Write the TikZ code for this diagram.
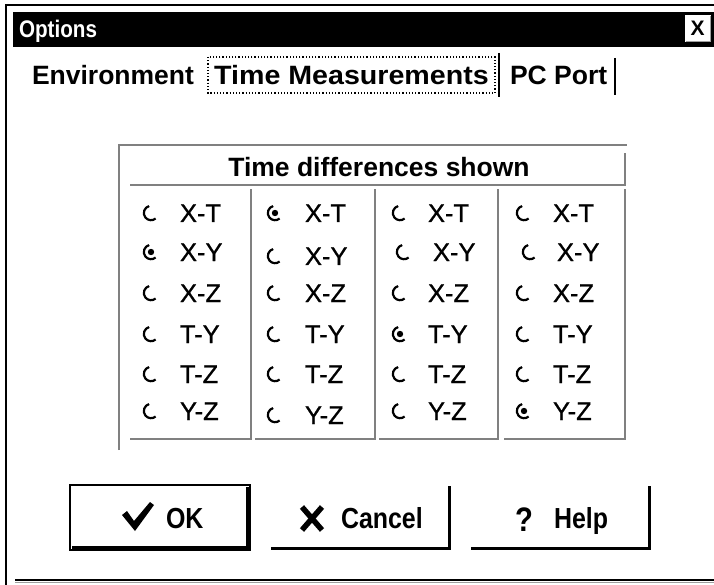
\documentclass[tikz,border=0pt]{standalone}
\usepackage{fontspec}
\setmainfont{Liberation Sans}
\newfontfamily\condfont[FakeStretch=0.86]{Liberation Sans}
\newfontfamily\radiofam[FakeBold=0.9]{Liberation Sans}
\definecolor{grpgray}{gray}{0.5}
\definecolor{shadegray}{gray}{0.62}
\newcommand\rbtn[3]{%
  \draw[rarc] (#1,#2) ++(-50:7.2pt) arc[start angle=-50,end angle=-255,radius=7.2pt];
  \ifnum#3=1 \fill[black] (#1,#2) circle[radius=3.2pt];\fi}
\begin{document}
\begin{tikzpicture}[x=1pt,y=-1pt,
  lbl/.style={anchor=base west,inner sep=0pt,outer sep=0pt},
  tabfont/.style={font=\fontsize{26.5}{30}\selectfont\bfseries},
  radiofont/.style={font=\radiofam\fontsize{25.5}{28}\selectfont},
  btnfont/.style={font=\condfont\fontsize{29}{32}\selectfont\bfseries},
  grp/.style={draw=grpgray,line width=1.6pt},
  rarc/.style={draw=black,line width=2.2pt},
  frameline/.style={draw=black,line width=2pt},
  shadowline/.style={draw=black,line width=3.2pt}]
\useasboundingbox (0,0) rectangle (714,585);
\fill[white] (0,0) rectangle (714,585);

% window frame and title bar
\draw[frameline] (6,585) -- (6,5) -- (714,5);
\fill[black] (13,12) rectangle (714,47);
\node[lbl,text=white,font=\condfont\fontsize{24}{26}\selectfont\bfseries] (title) at (19,38) {Options};
\fill[white] (685,15) rectangle (711,42);
\draw[shadegray,line width=1.5pt] (686,41.5) -- (710.5,41.5) -- (710.5,16);
\node[font=\fontsize{21}{24}\selectfont\bfseries,inner sep=0pt] (close) at (697.5,28.5) {X};

% tabs
\node[lbl,tabfont] (tabenv) at (32,85) {Environment};
\draw[black,line width=1.2pt,dotted] (208,57) rectangle (495,93);
\node[anchor=base,inner sep=0pt,tabfont] (tabtime) at (351.5,85) {\scalebox{1.08}[1]{Time Measurements}};
\draw[frameline] (499,53) -- (499,97);
\node[lbl,tabfont] (tabpc) at (510,85) {PC Port};
\draw[frameline] (615,58) -- (615,95);

% group box
\draw[grp] (119,450) -- (119,145) -- (627,145);
\draw[grp] (130,185) -- (625,185) -- (625,153);
\node[anchor=base,inner sep=0pt,tabfont] (grptitle) at (379,177) {Time differences shown};
\draw[grp] (130,439) -- (251,439) -- (251,189);
\draw[grp] (255,439) -- (375,439) -- (375,189);
\draw[grp] (379,439) -- (498,439) -- (498,189);
\draw[grp] (504,439) -- (625,439) -- (625,189);

% column 1
\rbtn{151}{213}{0} \node[lbl,radiofont] (a1) at (180,222) {X-T};
\rbtn{151}{252}{1} \node[lbl,radiofont] (a2) at (180,261) {X-Y};
\rbtn{151}{293}{0} \node[lbl,radiofont] (a3) at (180,302) {X-Z};
\rbtn{151}{334}{0} \node[lbl,radiofont] (a4) at (180,343) {T-Y};
\rbtn{151}{374}{0} \node[lbl,radiofont] (a5) at (180,383) {T-Z};
\rbtn{151}{411}{0} \node[lbl,radiofont] (a6) at (180,420) {Y-Z};
% column 2
\rbtn{275}{213}{1} \node[lbl,radiofont] (b1) at (305,222) {X-T};
\rbtn{275}{256}{0} \node[lbl,radiofont] (b2) at (305,265) {X-Y};
\rbtn{275}{293}{0} \node[lbl,radiofont] (b3) at (305,302) {X-Z};
\rbtn{275}{334}{0} \node[lbl,radiofont] (b4) at (305,343) {T-Y};
\rbtn{275}{374}{0} \node[lbl,radiofont] (b5) at (305,383) {T-Z};
\rbtn{275}{415}{0} \node[lbl,radiofont] (b6) at (305,424) {Y-Z};
% column 3
\rbtn{400}{213}{0} \node[lbl,radiofont] (c1) at (428,222) {X-T};
\rbtn{404}{252}{0} \node[lbl,radiofont] (c2) at (433,261) {X-Y};
\rbtn{400}{293}{0} \node[lbl,radiofont] (c3) at (428,302) {X-Z};
\rbtn{400}{334}{1} \node[lbl,radiofont] (c4) at (428,343) {T-Y};
\rbtn{400}{374}{0} \node[lbl,radiofont] (c5) at (428,383) {T-Z};
\rbtn{400}{411}{0} \node[lbl,radiofont] (c6) at (428,420) {Y-Z};
% column 4
\rbtn{524}{213}{0} \node[lbl,radiofont] (d1) at (553,222) {X-T};
\rbtn{530}{252}{0} \node[lbl,radiofont] (d2) at (557,261) {X-Y};
\rbtn{524}{293}{0} \node[lbl,radiofont] (d3) at (553,302) {X-Z};
\rbtn{524}{334}{0} \node[lbl,radiofont] (d4) at (553,343) {T-Y};
\rbtn{524}{374}{0} \node[lbl,radiofont] (d5) at (553,383) {T-Z};
\rbtn{524}{411}{1} \node[lbl,radiofont] (d6) at (553,420) {Y-Z};

% OK button (default)
\draw[frameline] (70,485) rectangle (250,550);
\draw[shadowline] (72,547.5) -- (247.5,547.5) -- (247.5,487);
\fill[black] (122,515) -- (127,511) -- (134,521) -- (150,502) -- (154,505) -- (135,531) -- cycle;
\node[lbl,btnfont] (ok) at (166,528) {OK};
% Cancel button
\draw[shadowline] (271,548.5) -- (449.5,548.5) -- (449.5,486);
\draw[black,line width=5.5pt] (302,507) -- (322,530);
\draw[black,line width=5.5pt] (322,507) -- (302,530);
\node[lbl,btnfont] (cancel) at (341,528) {Cancel};
% Help button
\draw[shadowline] (471,548.5) -- (649.5,548.5) -- (649.5,486);
\node[lbl,font=\condfont\fontsize{34}{36}\selectfont\bfseries] (qmark) at (515,531) {?};
\node[lbl,btnfont] (help) at (554,528) {Help};

% bottom line
\draw[black,line width=2.5pt] (15,580) -- (714,580);
\draw[shadegray,line width=1pt] (15,582.5) -- (714,582.5);
\end{tikzpicture}
\end{document}
